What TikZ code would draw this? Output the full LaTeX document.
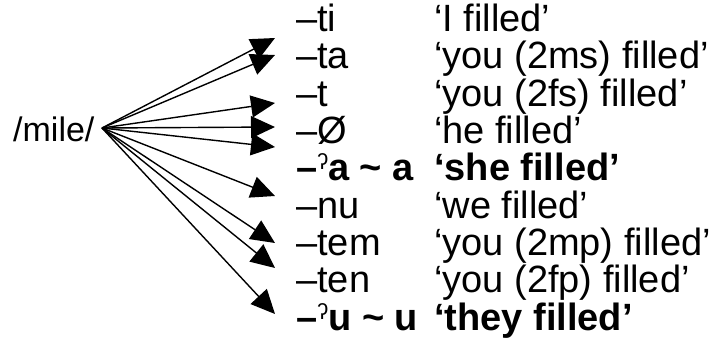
\documentclass[tikz,border=0pt]{standalone}
\usepackage{fontspec}
\setmainfont{Liberation Sans}
\usetikzlibrary{arrows.meta}
\newcommand{\glot}{\raisebox{0.28em}{\fontsize{22}{22}\selectfont\mdseries ʔ}}
\begin{document}
\begin{tikzpicture}[x=1pt,y=-1pt,
  lbl/.style={anchor=base west, inner sep=0pt, font=\fontsize{38}{40}\selectfont},
  blbl/.style={anchor=base west, inner sep=0pt, font=\fontsize{38}{40}\selectfont\bfseries},
  arr/.style={-{Triangle[length=24pt,width=22pt]}, line width=1.4pt}]
\useasboundingbox (0,0) rectangle (727,338);
\node[anchor=base west, inner sep=0pt, font=\fontsize{34}{36}\selectfont] (stem) at (13,141) {/mile/};
\coordinate (src) at (102,128);
% suffixes
\node[lbl]  (s1) at (296,31)  {–ti};
\node[lbl]  (s2) at (296,68)  {–ta};
\node[lbl]  (s3) at (296,106) {–t};
\node[lbl]  (s4) at (296,143) {–Ø};
\node[blbl] (s5) at (296,180) {–\glot a \char`~\ a};
\node[lbl]  (s6) at (296,218) {–nu};
\node[lbl]  (s7) at (296,255) {–tem};
\node[lbl]  (s8) at (296,292) {–ten};
\node[blbl] (s9) at (296,330) {–\glot u \char`~\ u};
% glosses
\node[lbl]  (g1) at (434,31)  {‘I filled’};
\node[lbl]  (g2) at (434,68)  {‘you (2ms) filled’};
\node[lbl]  (g3) at (434,106) {‘you (2fs) filled’};
\node[lbl]  (g4) at (434,143) {‘he filled’};
\node[blbl] (g5) at (434,180) {‘she filled’};
\node[lbl]  (g6) at (434,218) {‘we filled’};
\node[lbl]  (g7) at (434,255) {‘you (2mp) filled’};
\node[lbl]  (g8) at (434,292) {‘you (2fp) filled’};
\node[blbl] (g9) at (434,330) {‘they filled’};
% arrow tips
\coordinate (t1) at (275,38);
\coordinate (t2) at (275,55);
\coordinate (t3) at (275,103);
\coordinate (t4) at (275,127);
\coordinate (t5) at (275,147);
\coordinate (t6) at (275,196);
\coordinate (t7) at (275,243);
\coordinate (t8) at (275,268);
\coordinate (t9) at (275,314);
\foreach \i in {1,...,9} \draw[arr] (src) -- (t\i);
\end{tikzpicture}
\end{document}
